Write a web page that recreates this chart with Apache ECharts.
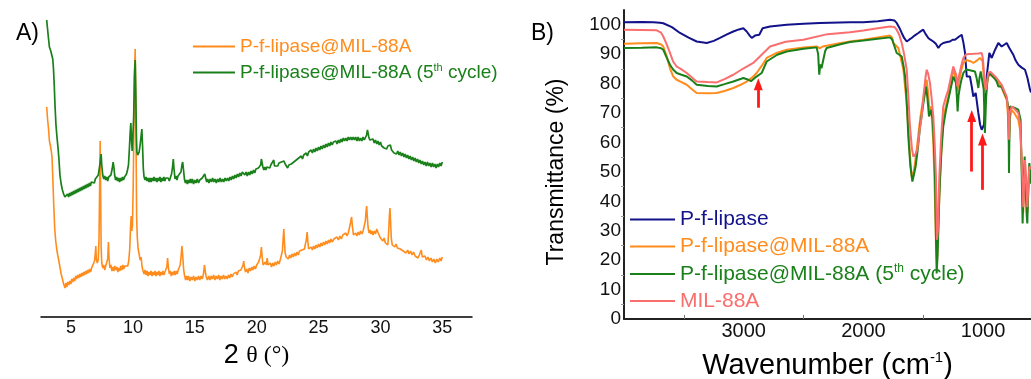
<!DOCTYPE html>
<html>
<head>
<meta charset="utf-8">
<script src="https://cdn.jsdelivr.net/npm/echarts@6/dist/echarts.min.js"></script>
<style>
  html, body { margin: 0; padding: 0; background: #ffffff; }
  #chart { width: 1031px; height: 379px; }
</style>
</head>
<body>
<div id="chart"></div>
<script>
// ---- Panel A: XRD patterns, [2θ (°), intensity (a.u.)] ----
const xrdFresh = [
[3.03,210],[3.10,198],[3.18,188],[3.25,176],[3.32,172],[3.40,166],[3.46,160],[3.52,140],[3.60,112],[3.68,88],[3.76,76],[3.84,68],[3.92,62],[4.00,57],[4.10,50],[4.20,43],[4.30,38],[4.40,33],[4.51,29],[4.58,34],[4.66,30],[4.74,35],[4.82,32],[4.90,36],[4.98,33],[5.06,38],[5.14,35],[5.22,39],[5.30,36],[5.38,41],[5.46,38],[5.54,42],[5.62,39],[5.70,43],[5.78,40],[5.86,44],[5.94,41],[6.02,45],[6.10,42],[6.18,46],[6.26,43],[6.34,47],[6.42,44],[6.50,48],[6.58,45],[6.66,49],[6.74,47],[6.82,51],[6.90,56],[6.96,64],[7.00,71],[7.04,58],[7.12,54],[7.20,58],[7.26,80],[7.31,130],[7.35,176],[7.39,128],[7.43,70],[7.48,54],[7.56,49],[7.64,52],[7.72,47],[7.80,51],[7.88,49],[7.96,58],[8.02,75],[8.07,58],[8.14,49],[8.22,52],[8.30,46],[8.38,50],[8.46,46],[8.54,51],[8.62,47],[8.70,50],[8.78,45],[8.86,49],[8.94,46],[9.02,51],[9.10,47],[9.18,52],[9.26,48],[9.34,51],[9.42,49],[9.50,53],[9.58,51],[9.66,56],[9.74,68],[9.80,88],[9.86,101],[9.91,86],[9.96,92],[10.02,130],[10.08,190],[10.13,245],[10.18,268],[10.22,232],[10.26,160],[10.30,100],[10.35,80],[10.42,68],[10.50,63],[10.58,57],[10.66,60],[10.74,50],[10.82,46],[10.90,43],[10.98,47],[11.06,42],[11.14,46],[11.22,41],[11.30,45],[11.38,42],[11.46,46],[11.54,41],[11.62,45],[11.70,42],[11.78,46],[11.86,41],[11.94,45],[12.02,42],[12.10,46],[12.18,41],[12.26,45],[12.34,42],[12.42,46],[12.50,42],[12.58,45],[12.66,43],[12.74,50],[12.80,59],[12.86,50],[12.94,43],[13.02,46],[13.10,41],[13.18,45],[13.26,42],[13.34,46],[13.42,42],[13.50,46],[13.58,43],[13.66,47],[13.74,46],[13.82,52],[13.90,62],[13.96,71],[14.02,62],[14.10,47],[14.18,41],[14.26,37],[14.34,41],[14.42,37],[14.50,41],[14.60,36],[14.70,40],[14.80,37],[14.90,41],[15.00,36],[15.10,40],[15.20,37],[15.30,41],[15.40,37],[15.50,41],[15.60,38],[15.70,43],[15.78,52],[15.84,46],[15.92,40],[16.02,37],[16.12,41],[16.22,37],[16.32,41],[16.42,38],[16.52,42],[16.62,37],[16.72,41],[16.82,38],[16.92,42],[17.02,37],[17.12,41],[17.22,38],[17.32,42],[17.42,38],[17.52,41],[17.62,38],[17.72,42],[17.82,39],[17.92,43],[18.02,40],[18.12,43],[18.22,41],[18.32,45],[18.42,42],[18.52,46],[18.62,44],[18.72,47],[18.82,47],[18.90,52],[18.95,56],[19.02,49],[19.10,45],[19.20,48],[19.30,44],[19.40,49],[19.50,46],[19.60,50],[19.70,47],[19.80,51],[19.90,48],[20.00,52],[20.08,50],[20.16,55],[20.24,53],[20.32,62],[20.38,70],[20.44,60],[20.52,52],[20.60,51],[20.70,55],[20.78,52],[20.85,59],[20.92,52],[21.00,50],[21.10,54],[21.20,50],[21.30,54],[21.40,51],[21.50,55],[21.60,52],[21.70,56],[21.80,53],[21.90,57],[22.00,58],[22.08,66],[22.14,78],[22.19,88],[22.24,76],[22.30,64],[22.38,60],[22.46,62],[22.56,58],[22.66,62],[22.76,59],[22.86,63],[22.96,60],[23.06,64],[23.16,61],[23.26,65],[23.36,62],[23.46,66],[23.56,64],[23.66,67],[23.76,65],[23.86,68],[23.96,70],[24.02,78],[24.08,85],[24.13,76],[24.20,68],[24.30,66],[24.40,70],[24.50,67],[24.60,71],[24.70,68],[24.80,72],[24.90,69],[25.00,73],[25.10,70],[25.20,74],[25.30,71],[25.40,75],[25.50,72],[25.60,76],[25.70,73],[25.80,77],[25.90,74],[26.00,78],[26.10,75],[26.24,78],[26.36,76],[26.48,80],[26.60,77],[26.72,81],[26.84,78],[26.96,82],[27.08,80],[27.20,84],[27.30,81],[27.40,84],[27.50,86],[27.58,94],[27.67,100],[27.74,90],[27.82,82],[27.90,80],[28.00,84],[28.10,81],[28.20,85],[28.30,82],[28.40,86],[28.50,83],[28.60,86],[28.70,85],[28.78,96],[28.84,106],[28.89,111],[28.94,100],[29.00,90],[29.08,84],[29.16,87],[29.24,83],[29.32,86],[29.40,82],[29.50,86],[29.60,83],[29.70,88],[29.76,90],[29.82,84],[29.90,82],[30.00,79],[30.10,81],[30.20,76],[30.30,79],[30.40,74],[30.50,76],[30.60,72],[30.66,84],[30.72,100],[30.77,109],[30.82,96],[30.88,78],[30.96,72],[31.06,74],[31.16,70],[31.26,73],[31.37,69],[31.48,71],[31.60,68],[31.72,70],[31.84,66],[31.96,68],[32.08,64],[32.20,67],[32.32,63],[32.44,66],[32.56,62],[32.68,65],[32.80,61],[32.92,63],[33.04,59],[33.14,62],[33.22,60],[33.30,67],[33.38,60],[33.48,58],[33.60,61],[33.72,57],[33.84,60],[33.96,56],[34.08,59],[34.20,55],[34.32,58],[34.44,54],[34.56,58],[34.68,55],[34.80,59],[34.90,56],[35.00,60]
];
const xrdCycled = [
[3.03,297],[3.10,288],[3.18,278],[3.25,270],[3.30,268],[3.36,266],[3.44,265],[3.52,258],[3.58,248],[3.64,232],[3.70,212],[3.78,192],[3.86,180],[3.94,170],[4.02,158],[4.10,142],[4.20,133],[4.30,127],[4.40,123],[4.50,120],[4.58,122],[4.65,118],[4.72,123],[4.80,120],[4.88,124],[4.96,121],[5.04,125],[5.12,122],[5.20,126],[5.28,123],[5.36,127],[5.44,124],[5.52,128],[5.60,125],[5.68,129],[5.76,126],[5.84,130],[5.92,127],[6.00,131],[6.08,128],[6.16,132],[6.24,129],[6.32,133],[6.40,130],[6.48,134],[6.56,131],[6.64,135],[6.72,133],[6.80,137],[6.88,134],[6.96,138],[7.04,137],[7.12,140],[7.20,142],[7.30,150],[7.38,158],[7.43,163],[7.48,152],[7.56,142],[7.64,138],[7.72,141],[7.80,137],[7.88,140],[7.96,136],[8.04,140],[8.12,138],[8.22,142],[8.32,148],[8.40,155],[8.46,150],[8.52,142],[8.60,137],[8.68,140],[8.76,136],[8.84,139],[8.92,135],[9.00,139],[9.08,136],[9.16,140],[9.24,137],[9.32,140],[9.40,139],[9.48,143],[9.56,147],[9.64,152],[9.72,170],[9.78,185],[9.83,194],[9.88,178],[9.94,166],[10.00,165],[10.06,200],[10.12,240],[10.18,257],[10.23,225],[10.28,180],[10.32,165],[10.38,162],[10.44,160],[10.50,165],[10.58,172],[10.65,180],[10.72,188],[10.78,170],[10.84,148],[10.90,140],[10.98,137],[11.06,140],[11.14,136],[11.22,139],[11.30,135],[11.38,139],[11.46,135],[11.54,139],[11.62,136],[11.70,140],[11.78,136],[11.86,139],[11.94,135],[12.02,139],[12.10,136],[12.18,140],[12.26,135],[12.34,139],[12.42,136],[12.50,140],[12.58,136],[12.66,139],[12.74,137],[12.84,139],[12.94,136],[13.04,140],[13.12,143],[13.20,150],[13.26,158],[13.32,148],[13.40,138],[13.48,141],[13.56,137],[13.64,141],[13.72,139],[13.80,142],[13.88,145],[13.96,152],[14.02,155],[14.08,148],[14.16,138],[14.24,134],[14.32,137],[14.40,133],[14.48,137],[14.56,134],[14.64,138],[14.72,134],[14.80,138],[14.90,133],[15.00,137],[15.10,134],[15.20,138],[15.30,134],[15.40,137],[15.50,135],[15.60,139],[15.70,140],[15.80,143],[15.88,139],[15.96,135],[16.04,138],[16.14,134],[16.24,138],[16.34,135],[16.44,139],[16.54,135],[16.64,138],[16.74,134],[16.84,138],[16.94,135],[17.04,139],[17.14,135],[17.24,138],[17.34,135],[17.44,139],[17.54,136],[17.64,139],[17.74,136],[17.84,140],[17.94,137],[18.04,141],[18.14,138],[18.24,142],[18.34,139],[18.44,143],[18.54,140],[18.64,144],[18.74,141],[18.84,145],[18.94,146],[19.04,142],[19.14,145],[19.24,141],[19.34,145],[19.44,142],[19.54,146],[19.64,143],[19.74,147],[19.84,144],[19.94,148],[20.04,146],[20.14,149],[20.24,148],[20.32,152],[20.38,158],[20.44,157],[20.50,150],[20.58,147],[20.66,150],[20.74,147],[20.82,150],[20.90,148],[20.98,152],[21.06,149],[21.14,152],[21.22,151],[21.30,154],[21.38,157],[21.44,151],[21.52,150],[21.60,153],[21.70,151],[21.80,154],[21.90,152],[22.00,155],[22.10,153],[22.20,156],[22.30,153],[22.40,151],[22.50,149],[22.60,152],[22.70,150],[22.80,153],[22.90,151],[23.00,155],[23.10,153],[23.20,157],[23.30,155],[23.40,159],[23.50,157],[23.60,161],[23.70,158],[23.80,162],[23.90,160],[24.00,164],[24.10,161],[24.20,165],[24.30,163],[24.40,167],[24.50,164],[24.60,168],[24.70,165],[24.80,169],[24.90,166],[25.00,170],[25.10,167],[25.20,171],[25.30,168],[25.40,172],[25.50,169],[25.60,173],[25.70,170],[25.80,174],[25.90,171],[26.00,175],[26.10,172],[26.20,175],[26.30,173],[26.40,176],[26.50,173],[26.60,177],[26.70,174],[26.80,178],[26.90,175],[27.00,179],[27.10,176],[27.20,179],[27.30,176],[27.40,180],[27.50,177],[27.60,180],[27.70,177],[27.80,180],[27.90,177],[28.00,180],[28.10,176],[28.20,180],[28.30,176],[28.40,179],[28.50,176],[28.60,180],[28.70,177],[28.80,179],[28.88,182],[28.95,187],[29.00,186],[29.06,180],[29.14,177],[29.22,179],[29.30,175],[29.40,178],[29.50,174],[29.60,177],[29.70,173],[29.80,176],[29.90,172],[30.00,175],[30.10,171],[30.20,173],[30.30,169],[30.40,171],[30.50,168],[30.60,171],[30.70,169],[30.80,172],[30.90,167],[31.00,167],[31.10,164],[31.20,166],[31.30,163],[31.40,166],[31.50,162],[31.60,165],[31.70,161],[31.80,164],[31.90,160],[32.00,163],[32.10,159],[32.20,162],[32.30,158],[32.40,161],[32.50,157],[32.60,160],[32.70,156],[32.80,159],[32.90,155],[33.00,158],[33.10,154],[33.20,157],[33.30,153],[33.40,156],[33.50,152],[33.60,155],[33.70,151],[33.80,155],[33.90,151],[34.00,154],[34.10,150],[34.20,154],[34.30,150],[34.40,153],[34.50,149],[34.60,153],[34.70,150],[34.80,154],[34.90,151],[35.00,155]
];
const xrdTicks = [5, 10, 15, 20, 25, 30, 35];

// ---- Panel B: FTIR spectra, [wavenumber (cm-1), transmittance (%)] ----
const ftirLipase = [
[4000,100.8],[3850,100.9],[3755,100.8],[3700,100.7],[3672,100.5],[3600,99.2],[3532,97.2],[3460,95.6],[3393,94.3],[3309,93.8],[3250,94.5],[3198,95.5],[3140,96.7],[3087,97.7],[3040,98.4],[3003,98.8],[2975,97.7],[2950,96.3],[2933,95.5],[2906,96.3],[2870,96.6],[2842,98.8],[2780,99.4],[2641,100.0],[2500,100.3],[2363,100.6],[2112,100.8],[2001,100.8],[1880,101.2],[1778,101.7],[1740,101.4],[1722,100.6],[1700,99.0],[1680,97.2],[1660,95.5],[1638,94.3],[1615,95.0],[1597,95.5],[1570,96.4],[1541,97.2],[1520,97.8],[1500,98.3],[1480,96.8],[1458,95.5],[1440,94.9],[1416,94.3],[1395,93.5],[1374,92.1],[1355,93.2],[1333,93.8],[1300,94.1],[1277,94.3],[1255,94.9],[1235,94.9],[1200,96.0],[1179,96.6],[1165,94.0],[1151,90.4],[1137,82.4],[1110,82.4],[1095,79.0],[1082,75.6],[1062,76.8],[1040,70.0],[1025,66.0],[1012,64.3],[993,66.0],[970,82.4],[948,90.4],[928,88.7],[900,91.5],[873,93.8],[845,92.6],[803,93.8],[780,92.0],[748,89.8],[730,88.0],[706,86.4],[680,85.5],[650,84.7],[630,82.0],[608,77.9],[600,77.0]
];
const ftirComposite = [
[4000,93.5],[3850,93.7],[3727,93.8],[3690,93.3],[3672,92.6],[3645,89.5],[3616,85.2],[3590,82.5],[3560,81.3],[3520,80.5],[3476,79.6],[3430,78.0],[3393,76.8],[3300,76.7],[3226,76.8],[3160,77.5],[3087,78.5],[3030,79.5],[2975,80.7],[2930,82.0],[2892,83.6],[2850,86.0],[2808,88.7],[2720,90.5],[2641,91.5],[2500,92.3],[2391,92.6],[2363,92.0],[2340,92.6],[2200,93.7],[2112,94.3],[2000,94.9],[1880,95.7],[1778,96.3],[1760,95.6],[1750,93.8],[1708,92.1],[1690,89.0],[1666,84.7],[1645,76.0],[1625,65.4],[1610,55.0],[1597,48.4],[1580,50.0],[1569,53.0],[1548,60.0],[1527,67.7],[1500,75.0],[1480,80.0],[1471,81.3],[1460,77.0],[1449,71.1],[1435,72.2],[1425,66.0],[1416,59.8],[1405,45.0],[1394,25.8],[1385,19.0],[1375,30.0],[1360,48.4],[1345,60.0],[1333,67.7],[1310,72.5],[1291,75.6],[1270,80.5],[1249,84.7],[1235,85.2],[1225,81.0],[1216,77.3],[1205,80.0],[1193,82.4],[1180,85.0],[1165,87.0],[1140,88.0],[1124,88.1],[1100,87.5],[1082,87.0],[1050,87.9],[1026,88.7],[1012,88.7],[1004,87.5],[999,84.7],[988,79.0],[976,76.8],[966,80.0],[957,82.4],[940,83.0],[928,83.0],[887,81.3],[845,78.5],[803,74.5],[790,68.0],[784,59.8],[778,68.0],[761,71.1],[740,70.0],[706,67.7],[690,64.0],[678,53.0],[670,43.0],[665,36.0],[658,44.0],[650,53.0],[640,45.0],[631,36.0],[622,44.0],[614,50.7],[600,50.0]
];
const ftirCycled = [
[4000,92.1],[3850,92.2],[3727,92.3],[3690,92.0],[3672,91.5],[3645,89.0],[3616,86.4],[3590,84.8],[3560,83.6],[3520,83.0],[3476,82.4],[3430,81.0],[3393,79.6],[3300,79.2],[3226,79.0],[3160,79.8],[3087,80.7],[3003,81.9],[2961,81.3],[2940,80.8],[2925,80.4],[2905,82.0],[2892,82.4],[2850,83.6],[2808,87.5],[2720,89.8],[2641,90.9],[2500,91.8],[2391,92.3],[2378,90.0],[2369,83.0],[2360,86.5],[2350,85.2],[2335,88.1],[2320,91.0],[2307,92.1],[2200,93.3],[2112,94.1],[2000,94.6],[1880,95.2],[1778,95.7],[1760,95.0],[1750,93.8],[1722,90.4],[1700,89.8],[1680,89.2],[1665,86.0],[1652,82.4],[1638,74.0],[1625,62.0],[1608,52.0],[1591,46.7],[1578,49.0],[1564,51.8],[1545,58.0],[1527,65.4],[1500,73.0],[1477,79.0],[1465,75.0],[1452,68.8],[1435,71.1],[1421,67.7],[1410,58.0],[1402,48.4],[1394,28.0],[1388,15.5],[1380,22.0],[1366,41.6],[1350,56.0],[1333,65.4],[1310,71.0],[1291,74.5],[1270,78.5],[1249,82.4],[1235,81.0],[1227,80.2],[1220,76.0],[1213,70.5],[1205,76.0],[1193,79.0],[1180,81.5],[1165,83.6],[1140,84.8],[1124,85.2],[1110,84.5],[1096,84.1],[1068,84.1],[1055,82.0],[1040,78.5],[1030,82.0],[1020,84.1],[1004,84.7],[995,78.0],[985,63.2],[975,75.0],[966,80.5],[957,83.0],[940,83.3],[928,83.0],[900,81.5],[887,80.7],[873,79.0],[845,79.0],[803,75.0],[790,72.2],[786,60.0],[784,49.6],[781,60.0],[775,72.2],[740,71.8],[706,71.1],[687,67.7],[678,50.0],[670,32.5],[662,45.0],[653,55.2],[645,45.0],[637,36.0],[631,32.5],[622,45.0],[614,53.0],[607,50.0],[600,46.0]
];
const ftirMil = [
[4000,98.3],[3850,98.2],[3727,98.1],[3690,97.3],[3672,96.0],[3645,93.5],[3616,90.4],[3590,87.5],[3560,85.8],[3520,84.8],[3476,83.6],[3430,82.0],[3393,80.7],[3300,80.5],[3226,80.4],[3160,81.5],[3087,83.0],[3000,85.2],[2920,87.0],[2850,89.8],[2780,92.6],[2650,94.2],[2502,94.9],[2300,96.8],[2112,97.4],[2000,98.0],[1880,98.8],[1778,99.4],[1740,99.2],[1722,98.3],[1700,96.5],[1680,93.8],[1660,90.0],[1638,84.7],[1625,76.0],[1611,65.4],[1595,58.0],[1583,55.2],[1565,56.0],[1550,57.5],[1530,64.0],[1513,68.8],[1495,77.0],[1480,82.5],[1471,84.7],[1460,83.5],[1444,80.2],[1430,75.0],[1416,68.8],[1405,60.0],[1394,48.4],[1386,26.9],[1378,30.0],[1366,48.4],[1350,62.0],[1333,72.2],[1310,75.5],[1291,77.9],[1270,82.0],[1249,85.8],[1235,86.4],[1225,83.0],[1216,79.0],[1205,82.0],[1193,84.1],[1180,86.5],[1165,88.7],[1140,90.0],[1124,90.4],[1080,90.1],[1040,90.2],[1012,90.4],[1004,89.0],[999,87.0],[988,81.0],[976,77.9],[966,81.0],[957,83.6],[940,84.0],[928,83.6],[887,81.9],[845,79.6],[803,75.6],[790,70.0],[784,60.9],[778,70.0],[761,72.2],[740,71.5],[706,70.0],[690,66.0],[678,54.0],[670,45.0],[665,38.0],[658,45.0],[650,54.0],[640,46.0],[631,38.0],[622,45.0],[614,51.8],[600,51.0]
];
const ftirLabelTicks = [1000, 2000, 3000];
const ftirMinorTicks = [1500, 2500, 3500];
const transLabelTicks = [0, 10, 20, 30, 40, 50, 60, 70, 80, 90, 100];
const transMinorTicks = [5, 15, 25, 35, 45, 55, 65, 75, 85, 95];
// highlighted bands: [wavenumber, arrow tail %, arrow head centre %]
const arrowMarks = [[2878, 71.8, 79.8], [1095, 50.1, 69.0], [1005, 43.9, 61.0]];

const NAME_LIPASE = 'P-f-lipase';
const NAME_COMPOSITE = 'P-f-lipase@MIL-88A';
const NAME_CYCLED = 'P-f-lipase@MIL-88A (5th cycle)';
const NAME_MIL = 'MIL-88A';

const C_NAVY = '#12128a';
const C_ORANGE = '#ff8c1c';
const C_GREEN = '#1a801a';
const C_SALMON = '#fa6e6e';

const FONT = '"Liberation Sans", Arial, sans-serif';

function legendFormatter(name) {
  if (name === NAME_CYCLED) {
    return '{m|P-f-lipase@MIL-88A (5}{sup|th}{m| cycle)}';
  }
  return '{m|' + name + '}';
}

const plainNumber = v => String(v);

const chartDom = document.getElementById('chart');
const chart = echarts.init(chartDom, null, { renderer: 'canvas' });

const option = {
  backgroundColor: '#ffffff',
  animation: false,
  textStyle: { fontFamily: FONT },
  title: [
    { text: 'A)', left: 11, top: 17, textStyle: { fontSize: 23, fontWeight: 'normal', color: '#000', fontFamily: FONT } },
    { text: 'B)', left: 526, top: 17, textStyle: { fontSize: 23, fontWeight: 'normal', color: '#000', fontFamily: FONT } }
  ],
  // vertical title of the transmittance axis
  graphic: [
    {
      type: 'text', x: 557, y: 172, rotation: Math.PI / 2, silent: true,
      style: {
        text: 'Transmittance (%)', fill: '#000',
        font: '23px "Liberation Sans", Arial, sans-serif',
        align: 'center', verticalAlign: 'middle'
      }
    }
  ],
  legend: [
    {
      left: 193, top: 37, orient: 'vertical', itemGap: 6, padding: 0,
      itemWidth: 42, itemHeight: 2, icon: 'rect',
      data: [
        { name: NAME_COMPOSITE, textStyle: { color: C_ORANGE } },
        { name: NAME_CYCLED, textStyle: { color: C_GREEN } }
      ],
      formatter: legendFormatter,
      textStyle: {
        fontFamily: FONT,
        rich: {
          m: { fontSize: 19, lineHeight: 21, fontFamily: FONT },
          sup: { fontSize: 11, lineHeight: 12, verticalAlign: 'top', fontFamily: FONT }
        }
      },
      selectedMode: false
    },
    {
      left: 630, top: 209, orient: 'vertical', itemGap: 6, padding: 0,
      itemWidth: 45, itemHeight: 2, icon: 'rect',
      data: [
        { name: NAME_LIPASE, textStyle: { color: C_NAVY } },
        { name: NAME_COMPOSITE, textStyle: { color: C_ORANGE } },
        { name: NAME_CYCLED, textStyle: { color: C_GREEN } },
        { name: NAME_MIL, textStyle: { color: C_SALMON } }
      ],
      formatter: legendFormatter,
      textStyle: {
        fontFamily: FONT,
        rich: {
          m: { fontSize: 21, lineHeight: 22, fontFamily: FONT },
          sup: { fontSize: 12, lineHeight: 12, verticalAlign: 'top', fontFamily: FONT }
        }
      },
      selectedMode: false
    }
  ],
  grid: [
    { left: 41, right: 559, top: 17, bottom: 62, containLabel: false, outerBoundsMode: 'none' },
    { left: 624, right: 0, top: 10, bottom: 60, containLabel: false, outerBoundsMode: 'none' }
  ],
  xAxis: [
    {
      gridIndex: 0, type: 'value', min: 2.57, max: 37.4,
      axisLine: { show: true, lineStyle: { color: '#000', width: 1.5 } },
      axisTick: { show: false },
      splitLine: { show: false },
      axisLabel: { customValues: xrdTicks, formatter: plainNumber, fontSize: 18, color: '#111', margin: 2, fontFamily: FONT },
      name: '{n|2 }{t|θ (°)}',
      nameLocation: 'middle', nameGap: 20,
      nameTextStyle: {
        rich: {
          n: { fontSize: 27, color: '#000', fontFamily: FONT, lineHeight: 30 },
          t: { fontSize: 24, color: '#000', fontFamily: '"Liberation Serif", "DejaVu Serif", serif', lineHeight: 30 }
        }
      }
    },
    {
      gridIndex: 1, type: 'value', min: 600, max: 4000, inverse: true,
      axisLine: { show: true, lineStyle: { color: '#222', width: 2 } },
      axisTick: { show: true, customValues: ftirMinorTicks, inside: true, length: 4, lineStyle: { color: '#777', width: 1 } },
      splitLine: { show: false },
      axisLabel: { customValues: ftirLabelTicks, formatter: plainNumber, fontSize: 20, color: '#111', margin: 2, fontFamily: FONT },
      name: '{n|Wavenumber (cm}{s|-1}{n|)}',
      nameLocation: 'middle', nameGap: 31,
      nameTextStyle: {
        rich: {
          n: { fontSize: 29, color: '#000', fontFamily: FONT, lineHeight: 32 },
          s: { fontSize: 15, color: '#000', fontFamily: FONT, lineHeight: 14, verticalAlign: 'top' }
        }
      }
    }
  ],
  yAxis: [
    {
      gridIndex: 0, type: 'value', min: 0, max: 300, show: false,
      splitLine: { show: false }
    },
    {
      gridIndex: 1, type: 'value', min: 0, max: 105,
      axisLine: { show: true, lineStyle: { color: '#222', width: 2 } },
      axisTick: { show: true, customValues: transMinorTicks, length: 3, lineStyle: { color: '#999', width: 1 } },
      splitLine: { show: false },
      axisLabel: { customValues: transLabelTicks, formatter: plainNumber, fontSize: 19, color: '#111', margin: 3, fontFamily: FONT }
    }
  ],
  series: [
    {
      name: NAME_COMPOSITE, type: 'line', xAxisIndex: 0, yAxisIndex: 0,
      data: xrdFresh, showSymbol: false, symbol: 'none',
      lineStyle: { color: C_ORANGE, width: 1.6 }, itemStyle: { color: C_ORANGE }
    },
    {
      name: NAME_CYCLED, type: 'line', xAxisIndex: 0, yAxisIndex: 0,
      data: xrdCycled, showSymbol: false, symbol: 'none',
      lineStyle: { color: C_GREEN, width: 1.7 }, itemStyle: { color: C_GREEN }
    },
    {
      name: NAME_LIPASE, type: 'line', xAxisIndex: 1, yAxisIndex: 1,
      data: ftirLipase, showSymbol: false, symbol: 'none',
      lineStyle: { color: C_NAVY, width: 2 }, itemStyle: { color: C_NAVY }
    },
    {
      name: NAME_COMPOSITE, type: 'line', xAxisIndex: 1, yAxisIndex: 1,
      data: ftirComposite, showSymbol: false, symbol: 'none',
      lineStyle: { color: C_ORANGE, width: 2 }, itemStyle: { color: C_ORANGE }
    },
    {
      name: NAME_CYCLED, type: 'line', xAxisIndex: 1, yAxisIndex: 1,
      data: ftirCycled, showSymbol: false, symbol: 'none',
      lineStyle: { color: C_GREEN, width: 2 }, itemStyle: { color: C_GREEN }
    },
    {
      name: NAME_MIL, type: 'line', xAxisIndex: 1, yAxisIndex: 1,
      data: ftirMil, showSymbol: false, symbol: 'none',
      lineStyle: { color: C_SALMON, width: 2 }, itemStyle: { color: C_SALMON },
      markLine: {
        silent: true,
        symbol: ['none', 'triangle'],
        symbolSize: [9, 12],
        label: { show: false },
        lineStyle: { color: '#ff1a1a', width: 2.8, type: 'solid' },
        itemStyle: { color: '#ff1a1a' },
        data: arrowMarks.map(a => [{ coord: [a[0], a[1]] }, { coord: [a[0], a[2]] }])
      }
    }
  ]
};

chart.setOption(option);
</script>
</body>
</html>
